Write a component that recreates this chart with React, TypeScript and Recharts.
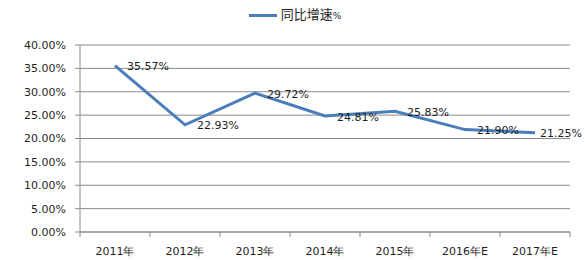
import React from "react";
import { LineChart, Line, XAxis, YAxis, CartesianGrid, Legend, LabelList } from "recharts";

const categories = ["2011年", "2012年", "2013年", "2014年", "2015年", "2016年E", "2017年E"];
const growth = [35.57, 22.93, 29.72, 24.81, 25.83, 21.9, 21.25];
const yTicks = [0, 5, 10, 15, 20, 25, 30, 35, 40];
const seriesName = "同比增速%";

const data = categories.map((c, i) => ({ year: c, value: growth[i] }));

const W = 585;
const H = 260;
const M = { top: 5, right: 15, bottom: 0, left: 0 };
const Y_W = 80;
const PLOT_W = W - M.left - M.right - Y_W;
const HALF_BAND = PLOT_W / categories.length / 2;
const FONT = "'DejaVu Sans', sans-serif";
const TEXT = "#1f1f1f";
const GRID = "#8a8a8a";
const BLUE = "#4A7EBB";

const XTick = (props: any) => {
  const { x, y, payload, index } = props;
  const last = index === categories.length - 1;
  return (
    <g>
      <line x1={x - HALF_BAND} x2={x - HALF_BAND} y1={y} y2={y + 5} stroke={GRID} />
      {last && <line x1={x + HALF_BAND} x2={x + HALF_BAND} y1={y} y2={y + 5} stroke={GRID} />}
      <text x={x} y={y + 23} textAnchor="middle" fontFamily={FONT} fontSize={11} fill={TEXT}>
        {payload.value}
      </text>
    </g>
  );
};

const renderLabel = (props: any) => {
  const { x, y, value } = props;
  const text = `${Number(value).toFixed(2)}%`;
  const tx = Math.min(x + 12, W - 3 - 42);
  return (
    <text x={tx} y={y + 1} dominantBaseline="central" textAnchor="start" fontFamily={FONT} fontSize={11} fill={TEXT}>
      {text}
    </text>
  );
};

const LegendContent = () => (
  <div style={{ display: "flex", alignItems: "center", justifyContent: "center", height: 20, marginTop: 0, paddingLeft: 20 }}>
    <span style={{ display: "inline-block", width: 28, height: 3, background: BLUE, marginRight: 4 }} />
    <span style={{ fontFamily: "'Noto Sans CJK SC', sans-serif", fontSize: 13, color: TEXT, lineHeight: "20px" }}>
      同比增速<span style={{ fontFamily: FONT, fontSize: 9 }}>%</span>
    </span>
  </div>
);

export default function App() {
  return (
    <div style={{ position: "fixed", left: 0, top: 0, width: W, height: H, background: "#fff" }}>
      <LineChart width={W} height={H} data={data} margin={M}>
        <CartesianGrid vertical={false} stroke={GRID} />
        <Legend verticalAlign="top" height={40} content={<LegendContent />} />
        <XAxis
          dataKey="year"
          height={28}
          axisLine={{ stroke: GRID }}
          tickLine={false}
          tickSize={0}
          tickMargin={0}
          padding={{ left: HALF_BAND, right: HALF_BAND }}
          tick={<XTick />}
          interval={0}
        />
        <YAxis
          width={Y_W}
          domain={[0, 40]}
          ticks={yTicks}
          interval={0}
          tickFormatter={(v: number) => `${v.toFixed(2)}%`}
          axisLine={{ stroke: GRID }}
          tickLine={{ stroke: GRID }}
          tickSize={5}
          tickMargin={9}
          tick={{ fontFamily: FONT, fontSize: 11, fill: TEXT }}
        />
        <Line
          type="linear"
          dataKey="value"
          name={seriesName}
          stroke={BLUE}
          strokeWidth={3}
          dot={false}
          activeDot={false}
          isAnimationActive={false}
        >
          <LabelList dataKey="value" content={renderLabel} />
        </Line>
      </LineChart>
    </div>
  );
}
